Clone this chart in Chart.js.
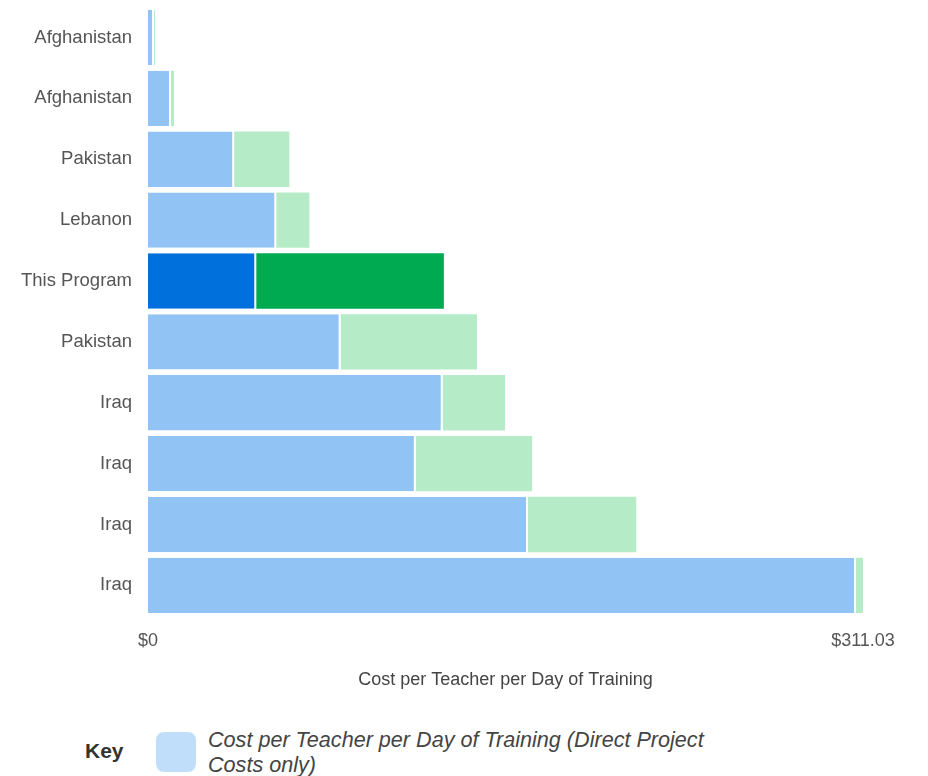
<!DOCTYPE html>
<html>
<head>
<meta charset="utf-8">
<script src="https://cdn.jsdelivr.net/npm/chart.js@4"></script>
<style>
    body { margin: 0; background: #fff; font-family: 'Liberation Sans', Arial, sans-serif; overflow: hidden; }
    #wrap { position: absolute; left: 0; top: -12px; width: 928px; height: 703px; }
    #key { position: absolute; left: 0; top: 725px; width: 928px; height: 60px; }
    #key .label { position: absolute; left: 85px; top: 14px; font-weight: bold; font-size: 21px; color: #333; }
    #key .swatch { position: absolute; left: 156px; top: 7px; width: 40px; height: 40px; border-radius: 8px; background: #c0ddf9; }
    #key .text { position: absolute; left: 208px; top: 2px; width: 505px; font-style: italic; font-size: 21.6px; line-height: 25px; color: #444; }
</style>
</head>
<body>
<div id="wrap"><canvas id="chart"></canvas></div>
<div id="key">
    <div class="label">Key</div>
    <div class="swatch"></div>
    <div class="text">Cost per Teacher per Day of Training (Direct Project Costs only)</div>
</div>
<script>
// chart data
const countries = ['Afghanistan', 'Afghanistan', 'Pakistan', 'Lebanon', 'This Program',
    'Pakistan', 'Iraq', 'Iraq', 'Iraq', 'Iraq'];
const directCosts = [2.6, 10.0, 37.5, 55.8, 47.1, 83.8, 128.2, 116.5, 165.3, 308.0];
const otherCosts = [0.4, 1.3, 24.0, 14.4, 81.6, 59.3, 27.1, 50.6, 47.1, 3.03];
const axisMax = 311.03;
const tickLabels = ['$0', '$311.03'];
const highlight = 'This Program';

// colours, highlighted row gets darker ones
const blueLight = '#91c4f5';
const greenLight = '#b5ebc7';
const blueDark = '#0070dd';
const greenDark = '#00aa50';

let blueColours = countries.map((c) => (c == highlight ? blueDark : blueLight));
let greenColours = countries.map((c) => (c == highlight ? greenDark : greenLight));

const font = { family: "'Liberation Sans', Arial, sans-serif", size: 18 };

new Chart(document.getElementById('chart'), {
    type: 'bar',
    data: {
        labels: countries,
        datasets: [
            {
                label: 'Direct Project Costs',
                data: directCosts,
                backgroundColor: blueColours,
                borderColor: '#ffffff',
                borderWidth: { left: 0, top: 0, bottom: 0, right: 2 },
                borderSkipped: false,
                barPercentage: 0.91,
                categoryPercentage: 1,
            },
            {
                label: 'Other Costs',
                data: otherCosts,
                backgroundColor: greenColours,
                borderWidth: 0,
                barPercentage: 0.91,
                categoryPercentage: 1,
            },
        ],
    },
    options: {
        indexAxis: 'y',
        responsive: true,
        maintainAspectRatio: false,
        animation: false,
        layout: { padding: { top: -12, right: 65, left: 0, bottom: 0 } },
        scales: {
            x: {
                stacked: true,
                min: 0,
                max: axisMax,
                grid: { display: false },
                border: { display: false },
                afterBuildTicks: (axis) => {
                    axis.ticks = [{ value: 0 }, { value: axisMax }];
                },
                ticks: {
                    color: '#555',
                    font: font,
                    padding: 6,
                    maxRotation: 0,
                    callback: (value, index) => tickLabels[index],
                },
                title: {
                    display: true,
                    text: 'Cost per Teacher per Day of Training',
                    color: '#444',
                    font: font,
                    padding: { top: 12, bottom: 0 },
                },
            },
            y: {
                stacked: true,
                grid: { display: false },
                border: { display: false },
                afterFit: (axis) => {
                    axis.width = 148;
                },
                ticks: { color: '#555', font: { family: font.family, size: 18.5 }, padding: 8 },
            },
        },
        plugins: {
            legend: { display: false },
            tooltip: { enabled: false },
        },
    },
});
</script>
</body>
</html>
